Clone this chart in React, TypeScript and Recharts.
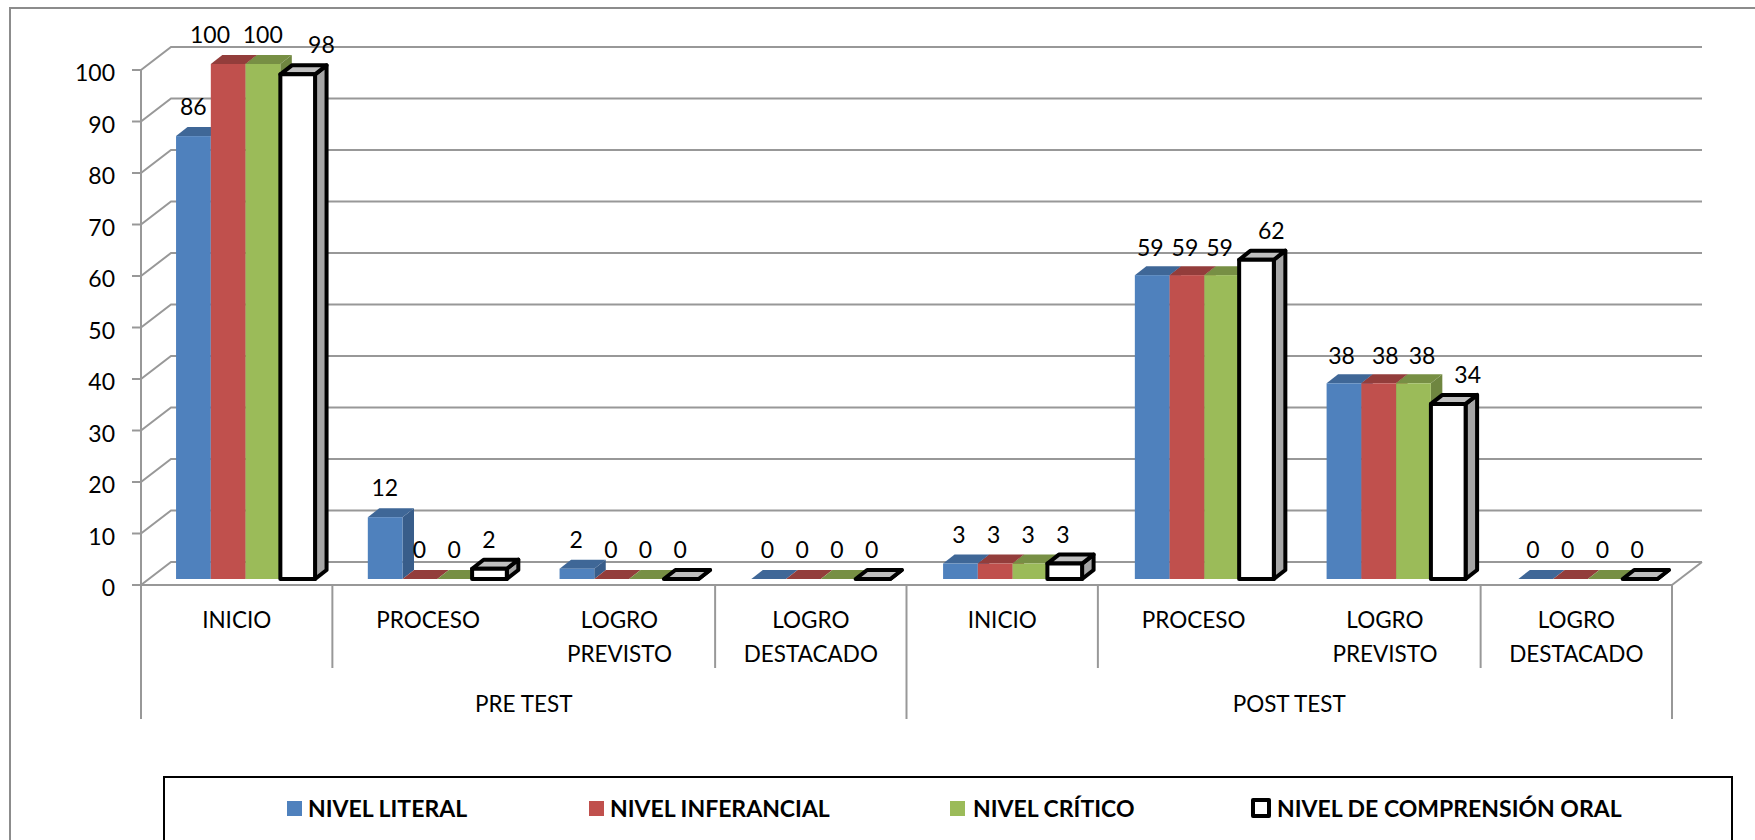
import { Bar, BarChart, CartesianGrid, LabelList, Legend, XAxis, YAxis } from "recharts";

const CATEGORIES = ["INICIO", "PROCESO", "LOGRO PREVISTO", "LOGRO DESTACADO", "INICIO", "PROCESO", "LOGRO PREVISTO", "LOGRO DESTACADO"];
const GROUPS = ["PRE TEST", "POST TEST"];
const LITERAL = [86, 12, 2, 0, 3, 59, 38, 0];
const INFERENCIAL = [100, 0, 0, 0, 3, 59, 38, 0];
const CRITICO = [100, 0, 0, 0, 3, 59, 38, 0];
const ORAL = [98, 2, 0, 0, 3, 62, 34, 0];
const Y_TICKS = [0, 10, 20, 30, 40, 50, 60, 70, 80, 90, 100];

const SERIES = [
  { key: "literal", name: "NIVEL LITERAL", values: LITERAL, front: "#4f81bd", top: "#3f6797", side: "#385d8a" },
  { key: "inferencial", name: "NIVEL INFERANCIAL", values: INFERENCIAL, front: "#c0504d", top: "#933d3b", side: "#8c3a38" },
  { key: "critico", name: "NIVEL CRÍTICO", values: CRITICO, front: "#9bbb59", top: "#778f44", side: "#6f8640" },
  { key: "oral", name: "NIVEL DE COMPRENSIÓN ORAL", values: ORAL, front: "#ffffff", top: "#bfbfbf", side: "#a6a6a6", outline: "#000000" },
];

const rows = CATEGORIES.map((category, i) => {
  const row: Record<string, string | number> = { category, slot: i };
  SERIES.forEach((s) => {
    row[s.key] = s.values[i];
  });
  return row;
});

// label nudges in the original, "category:series"
const LABEL_NUDGE: Record<string, number> = { "0:1": -18, "0:3": 24, "5:3": 17, "6:1": 9, "6:2": 11, "6:3": 22 };
const LABEL_DROP: Record<string, number> = { "5:0": 2, "5:1": 2, "5:2": 2, "6:0": 2, "6:1": 2, "6:2": 2 };

const FONT = "Lato, sans-serif";
const GRID = "#989898";
const WALL_DX = 30;
const WALL_DY = 23;
const FLOOR_DY = 6;
const DEPTH_DX = 11.5;
const DEPTH_DY = 9;

// the 3D floor drifts a little to the right across the plot
const floorX = (x: number) => x + 9 + (x - 141) * 0.002;

function Bar3D(props: any) {
  const { x, y, width, height, front, top, side, outline } = props;
  const l = floorX(x);
  const r = l + width;
  const t = y - FLOOR_DY;
  const b = t + height;
  const line = outline ? { stroke: outline, strokeWidth: 4, strokeLinejoin: "round" as const } : {};
  return (
    <g>
      <polygon points={`${r},${t} ${r + DEPTH_DX},${t - DEPTH_DY} ${r + DEPTH_DX},${b - DEPTH_DY} ${r},${b}`} fill={side} {...line} />
      <polygon points={`${l},${t} ${l + DEPTH_DX},${t - DEPTH_DY} ${r + DEPTH_DX},${t - DEPTH_DY} ${r},${t}`} fill={top} {...line} />
      <rect x={l} y={t} width={width} height={height} fill={front} {...line} />
    </g>
  );
}

function barLabel(seriesIndex: number) {
  return function BarLabel(props: any) {
    const { x, y, width, value, index } = props;
    const id = `${index}:${seriesIndex}`;
    return (
      <text
        x={x + 9 + width / 2 + (LABEL_NUDGE[id] ?? 0)}
        y={y - FLOOR_DY - 30 + (LABEL_DROP[id] ?? 0)}
        textAnchor="middle"
        dominantBaseline="central"
        fontFamily={FONT}
        fontSize={23}
        fill="#000"
      >
        {value}
      </text>
    );
  };
}

function WallLine(props: any) {
  const { x1, x2, y1, index } = props;
  return (
    <g key={index} fill="none" stroke={GRID} strokeWidth={2}>
      <polyline points={`${x1},${y1} ${x1 + WALL_DX},${y1 - WALL_DY} ${x2 + WALL_DX},${y1 - WALL_DY}`} />
      {y1 > 560 && <line x1={x2} y1={y1} x2={x2 + WALL_DX} y2={y1 - WALL_DY} />}
    </g>
  );
}

function ValueTick(props: any) {
  const { x, y, payload } = props;
  return (
    <text x={x} y={y + 2} textAnchor="end" dominantBaseline="central" fontFamily={FONT} fontSize={23} fill="#000">
      {payload.value}
    </text>
  );
}

function CategoryTick(props: any) {
  const { x, payload } = props;
  const lines = String(payload.value).split(" ");
  return (
    <text textAnchor="middle" fontFamily={FONT} fontSize={22.5} fill="#000">
      {lines.map((line, i) => (
        <tspan key={i} x={x} y={628 + i * 33.5}>
          {line}
        </tspan>
      ))}
    </text>
  );
}

function GroupTick(props: any) {
  const { x, payload } = props;
  const v = payload.value;
  if (v === 2 || v === 6) {
    return (
      <text x={x} y={712} textAnchor="middle" fontFamily={FONT} fontSize={22.5} fill="#000">
        {GROUPS[v === 2 ? 0 : 1]}
      </text>
    );
  }
  return <line x1={x} x2={x} y1={585} y2={v % 4 === 0 ? 719 : 668} stroke={GRID} strokeWidth={2} />;
}

function LegendBox() {
  const xs = [287, 589, 950, 1251];
  return (
    <div style={{ position: "relative", width: 1566, height: 70, border: "2px solid #000", background: "#fff", fontFamily: FONT, fontWeight: 700, fontSize: 23, color: "#000" }}>
      {SERIES.map((s, i) => (
        <div key={s.key} style={{ position: "absolute", left: xs[i] - 165, top: 21, display: "flex", alignItems: "center", whiteSpace: "nowrap", height: 18 }}>
          <span
            style={{
              width: s.outline ? 12 : 15,
              height: s.outline ? 12 : 15,
              boxSizing: "content-box",
              background: s.front,
              border: s.outline ? "4px solid #000" : "none",
              borderRadius: s.outline ? 2 : 0,
              marginRight: i === 2 ? 8 : 6,
            }}
          />
          {s.name}
        </div>
      ))}
    </div>
  );
}

export default function App() {
  return (
    <div style={{ position: "absolute", left: 0, top: 0, width: 1755, height: 840, overflow: "hidden", background: "#fff" }}>
      <div style={{ position: "absolute", left: 9, top: 7, width: 1800, height: 900, border: "2px solid #8c8c8c" }} />
      <BarChart
        width={1755}
        height={840}
        data={rows}
        barSize={34.7}
        barGap={0}
        margin={{ top: 70, right: 83, bottom: 121, left: 0 }}
        style={{ position: "absolute", left: 0, top: 0 }}
      >
        <CartesianGrid vertical={false} horizontal={WallLine} />
        <XAxis dataKey="category" height={83} interval={0} tickLine={false} axisLine={{ stroke: GRID, strokeWidth: 2 }} tick={CategoryTick} />
        <XAxis
          xAxisId="group"
          dataKey="slot"
          type="number"
          domain={[0, 8]}
          allowDataOverflow
          ticks={[0, 1, 2, 3, 4, 5, 6, 7, 8]}
          interval={0}
          height={51}
          axisLine={false}
          tickLine={false}
          tick={GroupTick}
        />
        <YAxis
          width={141}
          domain={[0, 100]}
          ticks={Y_TICKS}
          interval={0}
          tickSize={9}
          tickMargin={17}
          tickLine={{ stroke: GRID, strokeWidth: 2 }}
          axisLine={{ stroke: GRID, strokeWidth: 2 }}
          tick={ValueTick}
        />
        <Legend
          verticalAlign="middle"
          layout="horizontal"
          content={<LegendBox />}
          wrapperStyle={{ left: 163, top: 776, width: 1570, height: 70 }}
        />
        {SERIES.map((s, i) => (
          <Bar
            key={s.key}
            dataKey={s.key}
            name={s.name}
            isAnimationActive={false}
            shape={(p: any) => <Bar3D {...p} front={s.front} top={s.top} side={s.side} outline={s.outline} />}
          >
            <LabelList dataKey={s.key} content={barLabel(i)} />
          </Bar>
        ))}
      </BarChart>
    </div>
  );
}
